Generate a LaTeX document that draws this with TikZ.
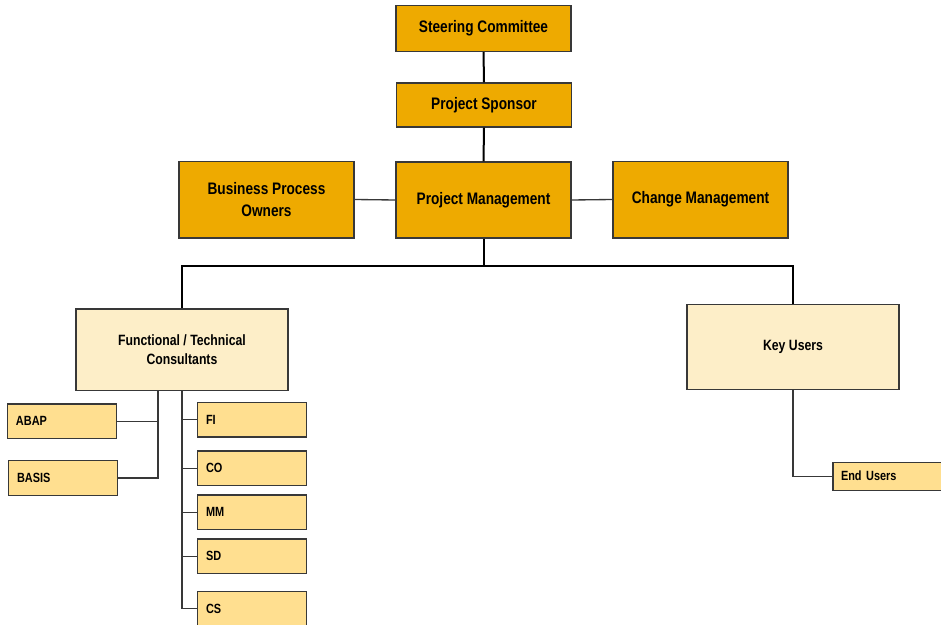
\documentclass[tikz,border=0pt]{standalone}
\usepackage{fontspec}
\setmainfont{Liberation Sans}[FakeStretch=0.82]
\usetikzlibrary{calc}
\definecolor{gold}{HTML}{EEAA00}
\definecolor{pale}{HTML}{FDEEC8}
\definecolor{soft}{HTML}{FFDF90}
\definecolor{edge}{HTML}{383838}
\begin{document}
\begin{tikzpicture}[x=0.75pt,y=-0.75pt,
  box/.style={draw=edge, line width=1pt, inner sep=0pt, align=center},
  bigbox/.style={box, fill=gold, font=\bfseries\fontsize{12.5}{16.3}\selectfont, minimum width=131.25pt},
  midbox/.style={box, fill=pale, font=\bfseries\fontsize{11.2}{14}\selectfont, minimum width=159pt, minimum height=61pt},
  smallbox/.style={box, fill=soft, font=\bfseries\fontsize{10}{12}\selectfont, minimum width=81.5pt, minimum height=26pt, text width=69pt, align=left, inner xsep=6pt},
  mainline/.style={line width=1.5pt, black},
  subline/.style={line width=1pt, edge}]
\useasboundingbox (0,0) rectangle (941,624);
\node[bigbox, minimum height=34.5pt] (sc) at (483.5,28.5) {Steering Committee};
\node[bigbox, minimum height=33pt] (sp) at (484,105) {Project Sponsor};
\node[bigbox, minimum height=57.5pt] (bpo) at (266.5,199.5) {Business Process\\Owners};
\node[bigbox, minimum height=57pt] (pm) at (483.5,200) {Project Management};
\node[bigbox, minimum height=57.5pt] (cm) at (700.5,199.5) {Change Management};
\node[midbox] (ftc) at (182,349.5) {Functional / Technical\\Consultants};
\node[midbox, minimum height=64pt] (ku) at (793,347) {Key Users};
\node[smallbox] (abap) at (62,421.3) {ABAP};
\node[smallbox] (basis) at (63,478) {BASIS};
\node[smallbox] (fi) at (252,419.7) {FI};
\node[smallbox] (co) at (252,468.3) {CO};
\node[smallbox] (mm) at (252,512.3) {MM};
\node[smallbox] (sd) at (252,556.3) {SD};
\node[smallbox] (cs) at (252,608.5) {CS};
\node[smallbox, minimum width=90pt, text width=78pt, minimum height=21pt] (eu) at (893,476.2) {End Users};
\draw[mainline] (sc.south) -- (sp.north);
\draw[mainline] (sp.south) -- (pm.north);
\draw[subline] (bpo.east) -- (pm.west);
\draw[subline] (pm.east) -- (cm.west);
\coordinate (bus) at ($(pm.south)+(0,27)$);
\draw[mainline] (pm.south) -- (bus) -| (ftc.north);
\draw[mainline] (bus) -| (ku.north);
\coordinate (lt) at ($(ftc.south)+(-24,0)$);
\draw[subline] (lt) |- (basis.east);
\draw[subline] (abap.east) -- (abap.east -| lt);
\draw[subline] (ftc.south) |- (cs.west);
\draw[subline] (fi.west -| ftc.south) -- (fi.west);
\draw[subline] (co.west -| ftc.south) -- (co.west);
\draw[subline] (mm.west -| ftc.south) -- (mm.west);
\draw[subline] (sd.west -| ftc.south) -- (sd.west);
\draw[subline] (ku.south) |- (eu.west);
\end{tikzpicture}
\end{document}
